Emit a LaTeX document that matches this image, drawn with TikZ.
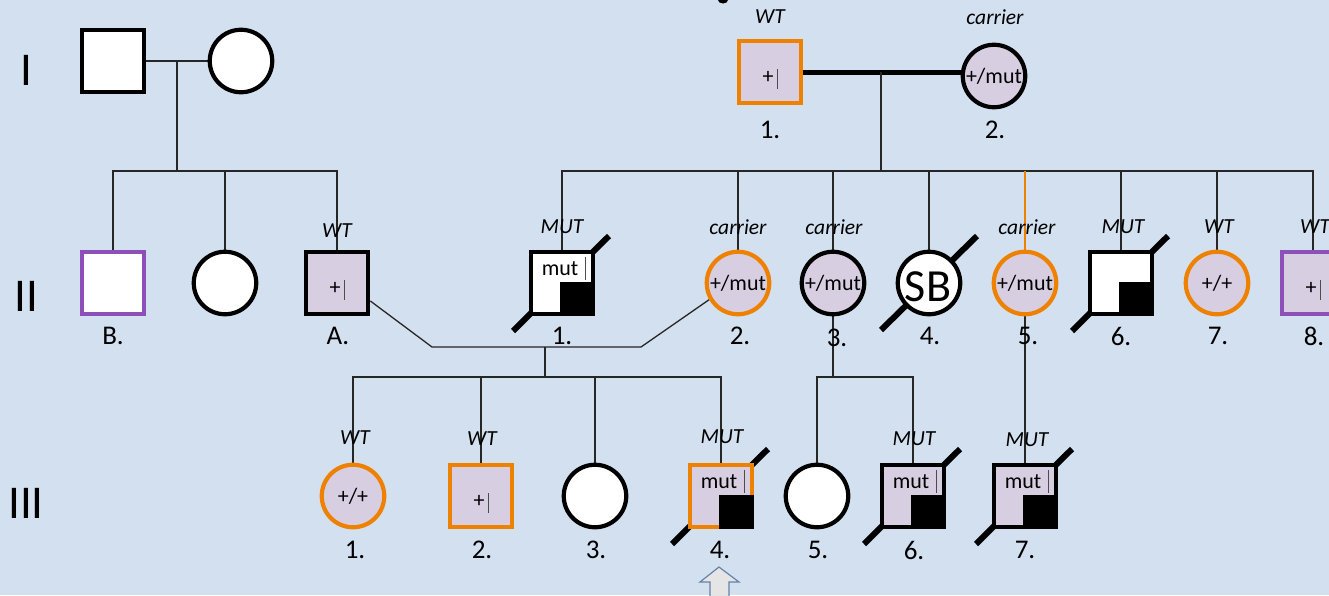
\documentclass[tikz,border=0pt]{standalone}
\usepackage{fontspec}
\setmainfont{Carlito}
\usetikzlibrary{backgrounds}

\definecolor{paper}{RGB}{211,224,239}
\definecolor{lav}{RGB}{216,206,226}
\definecolor{orng}{RGB}{238,130,0}
\definecolor{purp}{RGB}{140,80,184}
\definecolor{arrowblue}{RGB}{100,130,170}

\newcommand\gtfont{\fontsize{22}{22}\selectfont}
\newcommand\numfont{\fontsize{27}{27}\selectfont}
\newcommand\tagfont{\itshape\fontsize{21.5}{21.5}\selectfont}
\newcommand\genfont{\fontsize{47}{47}\selectfont}

% "+|" genotype mark inside a square
\newcommand\plusbar[1]{%
  \node[gtxt] (#1p) at ([shift={(-2,5)}]#1.center) {+};
  \draw[bar] ([shift={(7,-3)}]#1.center) -- ([shift={(7,17)}]#1.center);}
% affected quadrant of a square
\newcommand\quadfill[1]{%
  \fill[black] ([shift={(-2,-1)}]#1.center) rectangle (#1.south east);}
% "mut |" genotype mark inside a square
\newcommand\mutbar[1]{%
  \node[gtxt] (#1m) at ([shift={(-2,-14)}]#1.center) {mut};
  \draw[bar] ([shift={(23,-26)}]#1.center) -- ([shift={(23,-3)}]#1.center);}
% deceased slash through a symbol
\newcommand\deadslash[1]{%
  \draw[slash] ([shift={(-49,48)}]#1.center) -- ([shift={(47,-47)}]#1.center);}

\begin{document}
\begin{tikzpicture}[x=1pt,y=-1pt,
  conn/.style={line width=1.3pt, draw=black!85},
  wedline/.style={line width=5pt, draw=black},
  slash/.style={line width=6pt, draw=black},
  bar/.style={line width=1pt, draw=black!70},
  msq/.style={rectangle, draw=black, line width=4.2pt, minimum size=62.5pt, inner sep=0pt},
  fci/.style={circle, draw=black, line width=4.2pt, minimum size=62.5pt, inner sep=0pt, font=\gtfont},
  gtxt/.style={inner sep=0pt, font=\gtfont},
  num/.style={inner sep=0pt, font=\numfont},
  tag/.style={inner sep=0pt, font=\tagfont},
  gen/.style={inner sep=0pt, font=\genfont}]

\useasboundingbox (0,0) rectangle (1329,595);
\begin{scope}[on background layer]
  \fill[paper] (0,0) rectangle (1329,595);
\end{scope}

% fragment of the heading above the chart
\fill[black] (723,0) ellipse [x radius=5, y radius=3.5];

% generation numerals
\node[gen] (gI) at (26,70) {I};
\node[gen] (gII) at (26,296) {II};
\node[gen] (gIII) at (26,503) {III};

% ---------- left family ----------
\node[msq, fill=white] (Lf) at (113,61) {};
\node[fci, fill=white] (Lm) at (241,61) {};
\node[msq, draw=purp, fill=white] (IIB) at (113,283) {};
\node[fci, fill=white] (IIc) at (225,283) {};
\node[msq, fill=lav] (IIA) at (337,283) {};
\coordinate (Lj) at (177,61);
\coordinate (Ls) at (177,171);

% ---------- right family, generation I ----------
\node[msq, draw=orng, fill=lav] (Rm) at (770,72) {};
\node[fci, fill=lav] (Rf) at (994,76) {+/mut};
\coordinate (Rj) at (881,72);
\coordinate (Rs) at (881,171);

% ---------- generation II ----------
\node[msq, fill=white] (II1) at (562,283) {};
\node[fci, draw=orng, fill=lav] (II2) at (738,283) {+/mut};
\node[fci, fill=lav] (II3) at (833,283) {+/mut};
\node[fci, fill=white] (II4) at (929,283) {};
\node[fci, draw=orng, fill=lav] (II5) at (1025,283) {+/mut};
\node[msq, fill=white] (II6) at (1121,283) {};
\node[fci, draw=orng, fill=lav] (II7) at (1217,283) {+/+};
\node[msq, draw=purp, fill=lav] (II8) at (1313,283) {};

% ---------- generation III ----------
\node[fci, draw=orng, fill=lav] (III1) at (353,496) {+/+};
\node[msq, draw=orng, fill=lav] (III2) at (481,496) {};
\node[fci, fill=white] (III3) at (595,496) {};
\node[msq, draw=orng, fill=lav] (III4) at (721,496) {};
\node[fci, fill=white] (III5) at (817,496) {};
\node[msq, fill=lav] (III6) at (913,496) {};
\node[msq, fill=lav] (III7) at (1025,496) {};

\coordinate (MA) at (432,347);
\coordinate (M2) at (641,347);
\coordinate (Mj) at (545,347);
\coordinate (Ms) at (545,377);
\coordinate (S3) at (833,377);

% ---------- connectors and slashes (below the symbols) ----------
\begin{scope}[on background layer]
  % left family
  \draw[conn] (Lf.east) -- (Lm.west);
  \draw[conn] (Lj) -- (Ls);
  \draw[conn] (IIB.north) -- (IIB.north |- Ls) -- (IIA.north |- Ls) -- (IIA.north);
  \draw[conn] (IIc.north |- Ls) -- (IIc.north);
  % right family
  \draw[wedline] (Rm.east) -- (Rm.east -| Rf.west);
  \draw[conn] (Rj) -- (Rs);
  \draw[conn] (II1.north) -- (II1.north |- Rs) -- (II8.north |- Rs) -- (II8.north);
  \draw[conn] (II2.north |- Rs) -- (II2.north);
  \draw[conn] (II3.north |- Rs) -- (II3.north);
  \draw[conn] (II4.north |- Rs) -- (II4.north);
  \draw[conn, draw=orng] (II5.north |- Rs) -- (II5.north);
  \draw[conn] (II6.north |- Rs) -- (II6.north);
  \draw[conn] (II7.north |- Rs) -- (II7.north);
  % union of II-A and II-2
  \draw[conn] ([shift={(0,18)}]IIA.east) -- (MA) -- (M2) -- (II2.210);
  \draw[conn] (Mj) -- (Ms);
  \draw[conn] (III1.north) -- (III1.north |- Ms) -- (III4.north |- Ms) -- (III4.north);
  \draw[conn] (III2.north |- Ms) -- (III2.north);
  \draw[conn] (III3.north |- Ms) -- (III3.north);
  % descendants of II-3 and II-5
  \draw[conn] (II3.south) -- (S3);
  \draw[conn] (III5.north) -- (III5.north |- S3) -- (III6.north |- S3) -- (III6.north);
  \draw[conn] (II5.south) -- (III7.north);
  % deceased
  \deadslash{II1}
  \draw[slash] ([shift={(-48,47)}]II4.center) -- ([shift={(48,-47)}]II4.center);
  \deadslash{II6}
  \deadslash{III4}
  \deadslash{III6}
  \deadslash{III7}
\end{scope}

% ---------- symbol contents ----------
\plusbar{IIA}
\plusbar{Rm}
\plusbar{II8}
\plusbar{III2}
\quadfill{II1}  \mutbar{II1}
\quadfill{II6}
\quadfill{III4} \mutbar{III4}
\quadfill{III6} \mutbar{III6}
\quadfill{III7} \mutbar{III7}
\node[inner sep=0pt, font=\fontsize{46}{46}\selectfont] (SB) at (928,287) {SB};

% ---------- genotype tags ----------
\node[tag] (tA) at (337,231) {WT};
\node[tag] (tRm) at (770,17) {WT};
\node[tag] (tRf) at (995,17) {carrier};
\node[tag] (t1) at (562,227) {MUT};
\node[tag] (t2) at (738,227) {carrier};
\node[tag] (t3) at (834,227) {carrier};
\node[tag] (t5) at (1027,227) {carrier};
\node[tag] (t6) at (1123,227) {MUT};
\node[tag] (t7) at (1219,227) {WT};
\node[tag] (t8) at (1315,227) {WT};
\node[tag] (u1) at (355,438) {WT};
\node[tag] (u2) at (482,439) {WT};
\node[tag] (u4) at (722,437) {MUT};
\node[tag] (u6) at (914,439) {MUT};
\node[tag] (u7) at (1027,440) {MUT};

% ---------- individual numbers ----------
\node[num] (nRm) at (770,130) {1.};
\node[num] (nRf) at (995,130) {2.};
\node[num] (nB) at (113,336) {B.};
\node[num] (nA) at (338,336) {A.};
\node[num] (n1) at (562,336) {1.};
\node[num] (n2) at (740,336) {2.};
\node[num] (n3) at (837,338) {3.};
\node[num] (n4) at (930,336) {4.};
\node[num] (n5) at (1028,336) {5.};
\node[num] (n6) at (1121,336) {6.};
\node[num] (n7) at (1218,336) {7.};
\node[num] (n8) at (1314,336) {8.};
\node[num] (m1) at (355,550) {1.};
\node[num] (m2) at (482,550) {2.};
\node[num] (m3) at (596,550) {3.};
\node[num] (m4) at (720,550) {4.};
\node[num] (m5) at (818,550) {5.};
\node[num] (m6) at (914,550) {6.};
\node[num] (m7) at (1025,550) {7.};

% proband arrow
\filldraw[fill=black!10, draw=arrowblue, line width=1.2pt]
  (719,567) -- (739,582) -- (729,582) -- (729,597) -- (710,597) -- (710,582) -- (700,582) -- cycle;
\end{tikzpicture}
\end{document}
